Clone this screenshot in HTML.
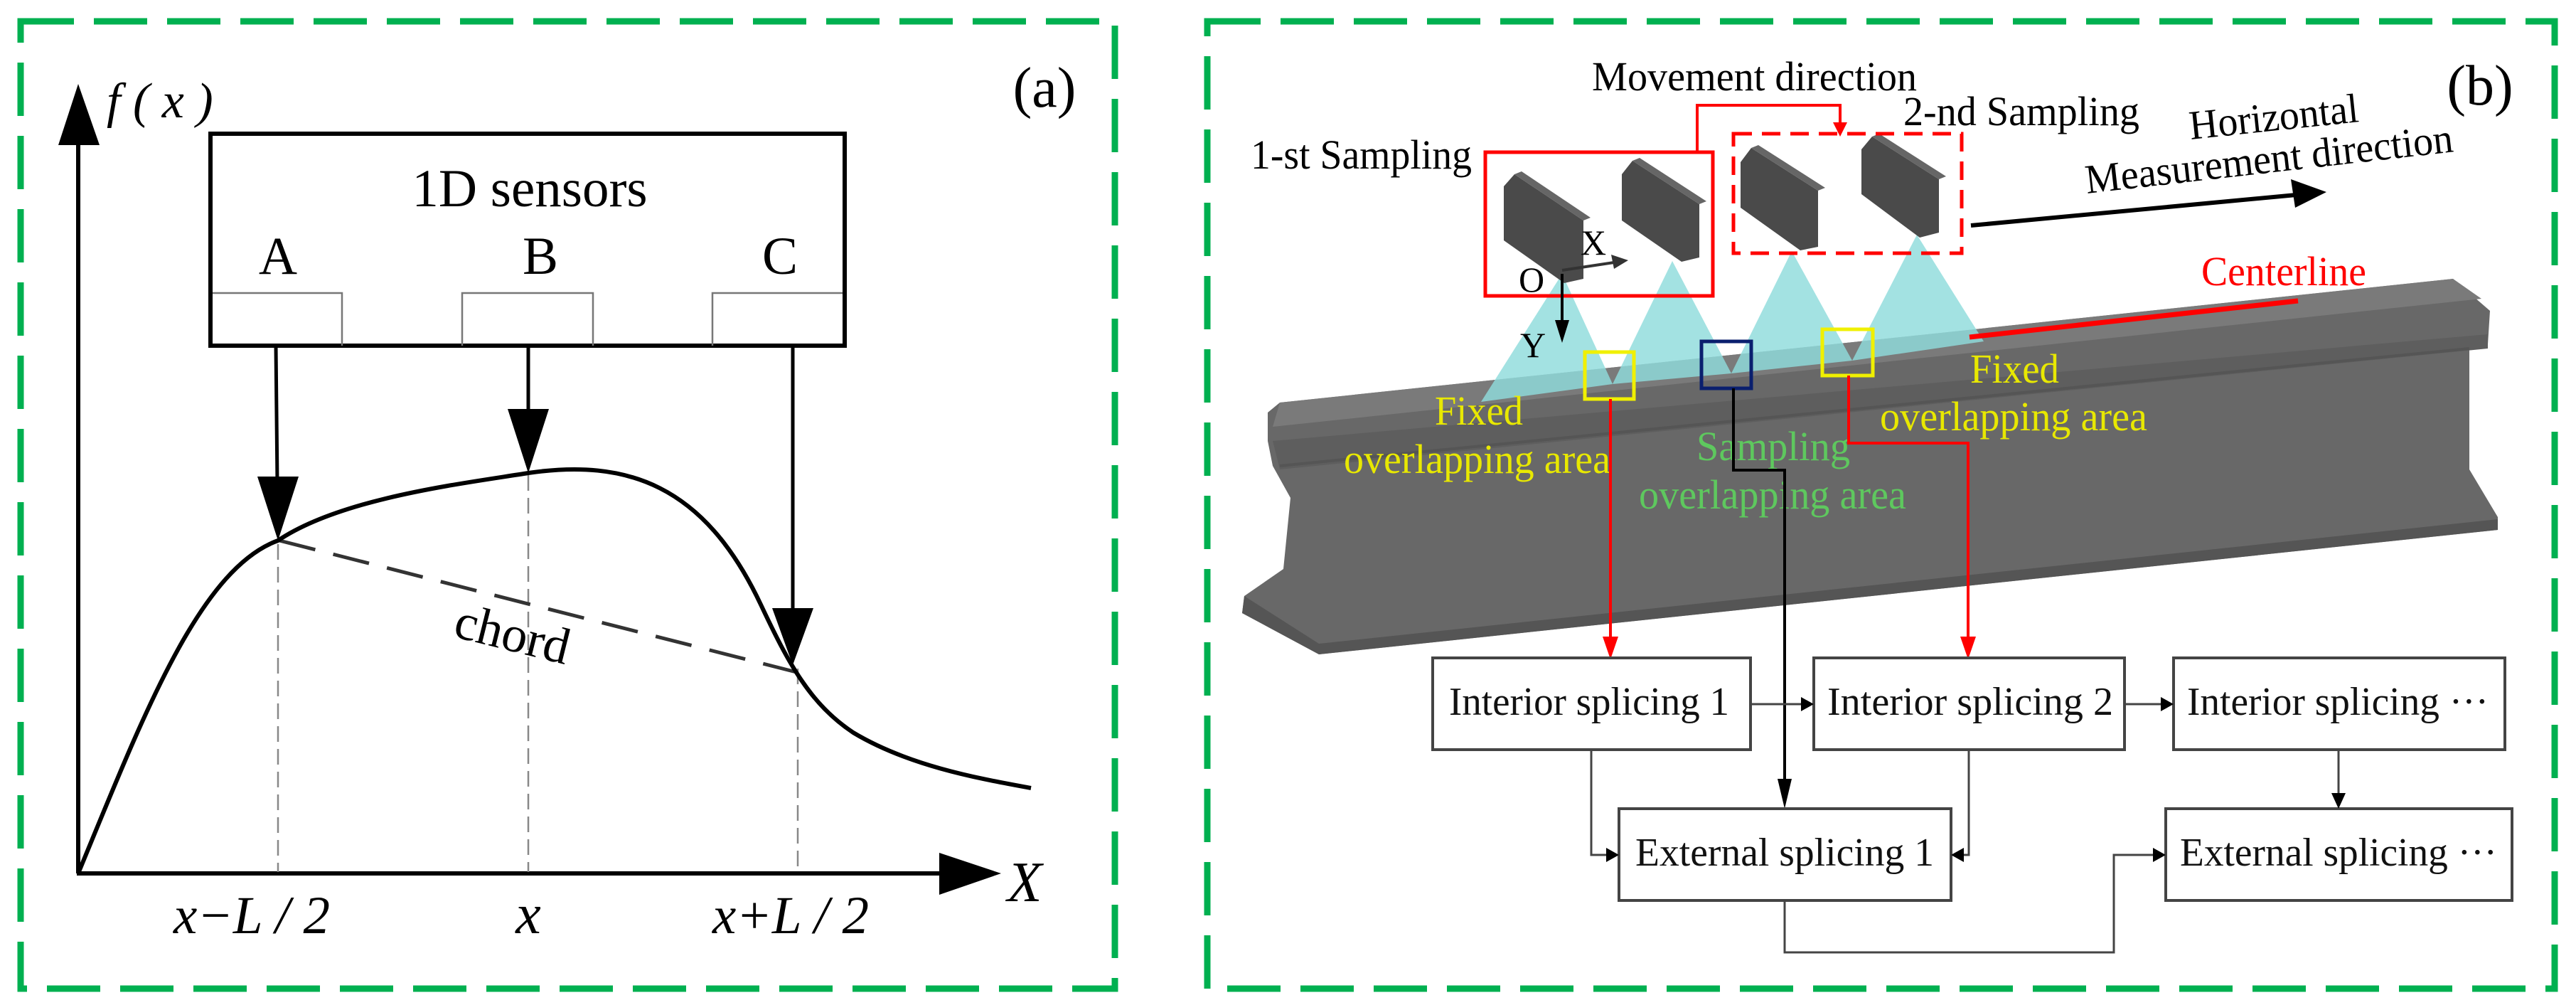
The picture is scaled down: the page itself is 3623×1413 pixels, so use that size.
<!DOCTYPE html>
<html><head><meta charset="utf-8"><style>
html,body{margin:0;padding:0;background:#fff;width:3623px;height:1413px;overflow:hidden}
svg{display:block}
svg text{font-family:"Liberation Serif","DejaVu Serif",serif}
</style></head><body>
<svg width="3623" height="1413" viewBox="0 0 3623 1413" xmlns="http://www.w3.org/2000/svg" font-family="Liberation Serif, DejaVu Serif, serif">
<!-- borders -->
<rect x="29" y="30" width="1539" height="1360" fill="none" stroke="#00b050" stroke-width="9" stroke-dasharray="75,28"/>
<rect x="1698" y="30" width="1895" height="1360" fill="none" stroke="#00b050" stroke-width="9" stroke-dasharray="75,28"/>

<!-- PANEL A -->
<g stroke="#000" fill="none">
<line x1="110" y1="1228" x2="110" y2="200" stroke-width="6"/>
<line x1="108" y1="1228" x2="1325" y2="1228" stroke-width="6"/>
</g>
<polygon points="110,118 82,204 140,204" fill="#000"/>
<polygon points="1408,1228 1321,1199 1321,1258" fill="#000"/>
<rect x="296" y="188" width="892" height="298" fill="none" stroke="#000" stroke-width="6"/>
<g fill="none" stroke="#777" stroke-width="2.5">
<polyline points="299,412 481,412 481,486"/>
<polyline points="650,486 650,412 834,412 834,486"/>
<polyline points="1002,486 1002,412 1185,412"/>
</g>
<g font-family="Liberation Serif, serif">
<text x="745" y="290" font-size="75" text-anchor="middle" font-family="Liberation Serif, serif">1D sensors</text>
<text x="391" y="385" font-size="75" text-anchor="middle" font-family="Liberation Serif, serif">A</text>
<text x="760" y="385" font-size="75" text-anchor="middle" font-family="Liberation Serif, serif">B</text>
<text x="1097" y="385" font-size="75" text-anchor="middle" font-family="Liberation Serif, serif">C</text>
</g>
<g stroke="#000" stroke-width="5">
<line x1="388" y1="486" x2="390" y2="680"/>
<line x1="743" y1="486" x2="743" y2="585"/>
<line x1="1115" y1="486" x2="1115" y2="865"/>
</g>
<polygon points="362,670 420,670 391,760" fill="#000"/>
<polygon points="714,575 772,575 743,665" fill="#000"/>
<polygon points="1086,855 1144,855 1115,935" fill="#000"/>
<g stroke="#888" stroke-width="2.5" stroke-dasharray="22,10" fill="none">
<line x1="391" y1="765" x2="391" y2="1226"/>
<line x1="743" y1="668" x2="743" y2="1226"/>
<line x1="1122" y1="940" x2="1122" y2="1226"/>
</g>
<line x1="393" y1="760" x2="1120" y2="945" stroke="#333" stroke-width="5" stroke-dasharray="52,26"/>
<path d="M110,1228 C200,1010 280,800 391,760 C480,700 650,680 743,665 C880,645 990,680 1070,850 C1110,935 1140,990 1200,1030 C1280,1078 1380,1095 1450,1108" fill="none" stroke="#000" stroke-width="6"/>
<text x="720" y="915" font-size="72" text-anchor="middle" transform="rotate(14 720 895)" font-family="Liberation Serif, serif">chord</text>
<text x="150" y="165" font-size="70" font-style="italic" font-family="Liberation Serif, serif">f ( x )</text>
<text x="1469" y="150" font-size="80" text-anchor="middle" font-family="Liberation Serif, serif">(a)</text>
<text x="354" y="1312" font-size="75" font-style="italic" text-anchor="middle" font-family="Liberation Serif, serif">x−L / 2</text>
<text x="743" y="1312" font-size="80" font-style="italic" text-anchor="middle" font-family="Liberation Serif, serif">x</text>
<text x="1112" y="1312" font-size="75" font-style="italic" text-anchor="middle" font-family="Liberation Serif, serif">x+L / 2</text>
<text x="1441" y="1267" font-size="80" font-style="italic" text-anchor="middle" font-family="Liberation Serif, serif">X</text>

<!-- PANEL B -->
<text x="3488" y="147" font-size="80" text-anchor="middle" font-family="Liberation Serif, serif">(b)</text>
<!-- rail -->
<polygon points="1783,580 1800,566 3450,392 3502,437 3499,484 3473,490 3473,660 3513,727 3513,745 1855,920 1747,862 1750,838 1805,800 1815,700 1790,655 1783,620" fill="#686868"/>
<polygon points="1800,566 3450,392 3490,420 1790,600" fill="#7a7a7a"/>
<polygon points="1790,620 3499,470 3499,490 1800,660" fill="#5e5e5e"/>
<line x1="1800" y1="655" x2="3473" y2="490" stroke="#555" stroke-width="4"/>
<polygon points="1750,838 1855,905 3513,730 3513,745 1855,920 1747,862" fill="#555"/>
<!-- cones -->
<g fill="#8fdcdc" opacity="0.82">
<polygon points="2197,385 2083,565 2268,540"/>
<polygon points="2352,367 2268,540 2435,525"/>
<polygon points="2520,353 2435,525 2605,507"/>
<polygon points="2696,330 2605,507 2790,480"/>
</g>
<!-- centerline -->
<line x1="2770" y1="474" x2="3232" y2="423" stroke="#ff0000" stroke-width="7"/>
<text x="3096" y="401" font-size="58" fill="#ff0000" textLength="232" lengthAdjust="spacingAndGlyphs" font-family="Liberation Serif, serif">Centerline</text>
<!-- cameras -->
<g>
<polygon points="2115,262 2130,245 2227,310 2227,392 2200,398 2115,338" fill="#4a4a4a"/>
<polygon points="2130,245 2227,310 2237,306 2140,241" fill="#666"/>
<polygon points="2281,245 2296,226 2390,287 2390,362 2365,368 2281,310" fill="#4a4a4a"/>
<polygon points="2296,226 2390,287 2400,283 2306,222" fill="#666"/>
<polygon points="2448,228 2463,208 2557,268 2557,347 2532,352 2448,292" fill="#4a4a4a"/>
<polygon points="2463,208 2557,268 2567,264 2473,204" fill="#666"/>
<polygon points="2618,210 2633,192 2727,252 2727,327 2700,334 2618,273" fill="#4a4a4a"/>
<polygon points="2633,192 2727,252 2737,248 2643,188" fill="#666"/>
</g>
<!-- red boxes -->
<rect x="2089" y="214" width="320" height="202" fill="none" stroke="#ff0000" stroke-width="5"/>
<rect x="2438" y="188" width="321" height="168" fill="none" stroke="#ff0000" stroke-width="5" stroke-dasharray="26,14"/>
<polyline points="2387,214 2387,148 2588,148 2588,175" fill="none" stroke="#ff0000" stroke-width="4"/>
<polygon points="2578,172 2598,172 2588,192" fill="#ff0000"/>
<!-- axes O X Y -->
<line x1="2197" y1="380" x2="2270" y2="369" stroke="#333" stroke-width="4"/>
<polygon points="2290,366 2266,358 2270,378" fill="#333"/>
<line x1="2197" y1="385" x2="2197" y2="455" stroke="#000" stroke-width="4"/>
<polygon points="2187,450 2207,450 2197,482" fill="#000"/>
<text x="2223" y="358" font-size="50" font-family="Liberation Serif, serif">X</text>
<text x="2136" y="410" font-size="50" font-family="Liberation Serif, serif">O</text>
<text x="2138" y="502" font-size="50" font-family="Liberation Serif, serif">Y</text>
<!-- labels -->
<text x="2239" y="127" font-size="58" textLength="457" lengthAdjust="spacingAndGlyphs" font-family="Liberation Serif, serif">Movement direction</text>
<text x="2677" y="176" font-size="58" textLength="332" lengthAdjust="spacingAndGlyphs" font-family="Liberation Serif, serif">2-nd Sampling</text>
<text x="1759" y="237" font-size="58" textLength="311" lengthAdjust="spacingAndGlyphs" font-family="Liberation Serif, serif">1-st Sampling</text>
<text x="3081" y="196" font-size="58" textLength="239" lengthAdjust="spacingAndGlyphs" transform="rotate(-6 3081 196)" font-family="Liberation Serif, serif">Horizontal</text>
<text x="2935" y="272" font-size="58" textLength="520" lengthAdjust="spacingAndGlyphs" transform="rotate(-6.5 2935 272)" font-family="Liberation Serif, serif">Measurement direction</text>
<line x1="2772" y1="317" x2="3240" y2="273" stroke="#000" stroke-width="6"/>
<polygon points="3272,270 3222,252 3228,292" fill="#000"/>
<!-- overlap boxes -->
<rect x="2229" y="495" width="69" height="66" fill="none" stroke="#f0f000" stroke-width="5"/>
<rect x="2563" y="463" width="71" height="65" fill="none" stroke="#f0f000" stroke-width="5"/>
<rect x="2393" y="480" width="70" height="66" fill="none" stroke="#0a1f6e" stroke-width="5"/>
<g fill="#e8e800" font-size="58" font-family="Liberation Serif, serif">
<text x="2018" y="597" textLength="124" lengthAdjust="spacingAndGlyphs">Fixed</text>
<text x="1890" y="665" textLength="375" lengthAdjust="spacingAndGlyphs">overlapping area</text>
<text x="2771" y="538" textLength="125" lengthAdjust="spacingAndGlyphs">Fixed</text>
<text x="2644" y="605" textLength="376" lengthAdjust="spacingAndGlyphs">overlapping area</text>
</g>
<g fill="#5ec85e" font-size="58" font-family="Liberation Serif, serif">
<text x="2386" y="647" textLength="216" lengthAdjust="spacingAndGlyphs">Sampling</text>
<text x="2305" y="715" textLength="376" lengthAdjust="spacingAndGlyphs">overlapping area</text>
</g>
<!-- connectors red/black -->
<line x1="2265" y1="561" x2="2265" y2="900" stroke="#ff0000" stroke-width="4"/>
<polygon points="2254,895 2276,895 2265,927" fill="#ff0000"/>
<polyline points="2600,528 2600,623 2768,623 2768,900" fill="none" stroke="#ff0000" stroke-width="4"/>
<polygon points="2757,895 2779,895 2768,927" fill="#ff0000"/>
<polyline points="2438,546 2438,661 2510,661 2510,1105" fill="none" stroke="#000" stroke-width="4"/>
<polygon points="2500,1095 2520,1095 2510,1137" fill="#000"/>
<!-- boxes -->
<g fill="#fff" stroke="#444" stroke-width="4">
<rect x="2015" y="925" width="447" height="129"/>
<rect x="2551" y="925" width="437" height="129"/>
<rect x="3057" y="925" width="466" height="129"/>
<rect x="2277" y="1137" width="467" height="129"/>
<rect x="3046" y="1137" width="487" height="129"/>
</g>
<g font-size="56" fill="#111" font-family="Liberation Serif, serif">
<text x="2038" y="1005" textLength="394" lengthAdjust="spacingAndGlyphs">Interior splicing 1</text>
<text x="2570" y="1005" textLength="402" lengthAdjust="spacingAndGlyphs">Interior splicing 2</text>
<text x="3076" y="1005" textLength="424" lengthAdjust="spacingAndGlyphs">Interior splicing ···</text>
<text x="2300" y="1217" textLength="420" lengthAdjust="spacingAndGlyphs">External splicing 1</text>
<text x="3066" y="1217" textLength="446" lengthAdjust="spacingAndGlyphs">External splicing ···</text>
</g>
<g fill="none" stroke="#444" stroke-width="3">
<line x1="2462" y1="990" x2="2535" y2="990"/>
<line x1="2988" y1="990" x2="3042" y2="990"/>
<polyline points="2238,1054 2238,1202 2262,1202"/>
<polyline points="2769,1054 2769,1202 2758,1202"/>
<line x1="3289" y1="1054" x2="3289" y2="1120"/>
<polyline points="2510,1266 2510,1339 2973,1339 2973,1202 3032,1202"/>
</g>
<g fill="#000">
<polygon points="2551,990 2533,980 2533,1000"/>
<polygon points="3057,990 3039,980 3039,1000"/>
<polygon points="2277,1202 2259,1192 2259,1212"/>
<polygon points="2744,1202 2762,1192 2762,1212"/>
<polygon points="3289,1137 3279,1115 3299,1115"/>
<polygon points="3046,1202 3028,1192 3028,1212"/>
</g>
</svg>
</body></html>
